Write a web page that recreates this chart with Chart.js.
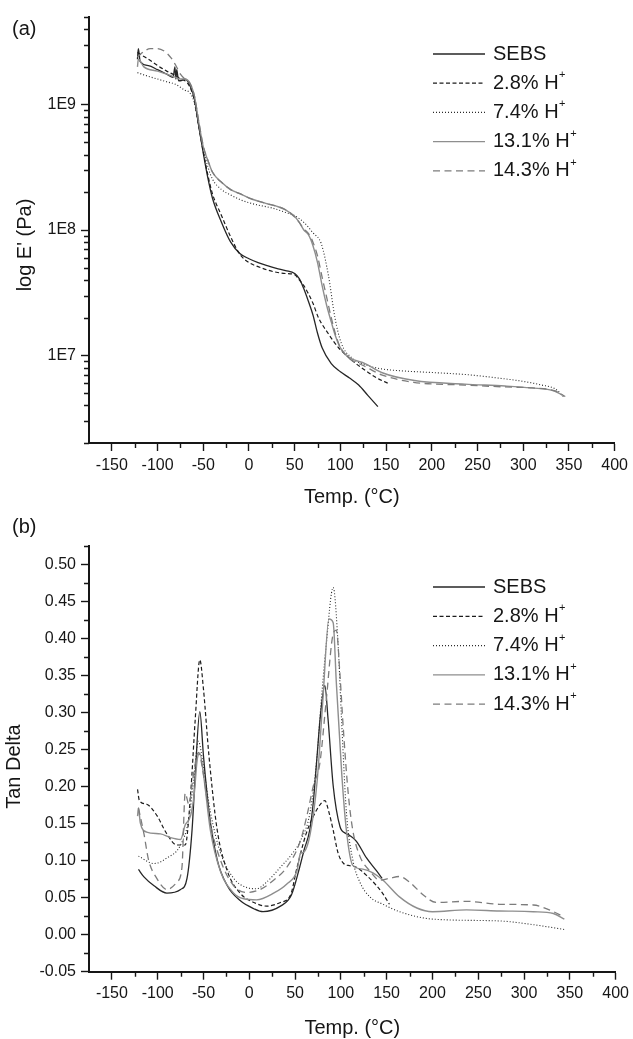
<!DOCTYPE html>
<html><head><meta charset="utf-8">
<script src="https://cdn.jsdelivr.net/npm/chart.js@4.4.0/dist/chart.umd.min.js"></script>
<style>
html,body{margin:0;padding:0;background:#fff;}
#wrap{position:relative;width:633px;height:1039px;overflow:hidden;}
canvas{position:absolute;left:0;}
#ca{top:0;} #cb{top:512px;}
</style></head><body>
<div id="wrap"><canvas id="ca" width="633" height="512"></canvas><canvas id="cb" width="633" height="527"></canvas></div>
<script>
const seriesNames = ['SEBS', '2.8% H⁺', '7.4% H⁺', '13.1% H⁺', '14.3% H⁺'];

// ---- panel (a): storage modulus E' (Pa) vs temperature (°C)
const sebsT_a = [-122,-121,-119,-110,-100,-90,-83,-81,-80,-79,-77,-75,-70,-65,-60,-55,-50,-45,-40,-30,-20,-10,0,10,20,30,40,50,55,60,65,70,75,80,90,100,110,120,130,141];
const sebsE_a = [2.3e9,2.8e9,2.2e9,2.05e9,1.9e9,1.75e9,1.65e9,2.0e9,1.6e9,1.9e9,1.55e9,1.55e9,1.6e9,1.45e9,1.14e9,6.8e8,4.1e8,2.6e8,1.8e8,1.15e8,8.0e7,6.5e7,5.9e7,5.5e7,5.2e7,4.95e7,4.75e7,4.5e7,4.1e7,3.4e7,2.7e7,2.1e7,1.5e7,1.15e7,8.6e6,7.4e6,6.6e6,5.8e6,4.8e6,3.9e6];
const p28T_a = [-122,-110,-100,-90,-80,-75,-70,-65,-60,-55,-50,-45,-40,-30,-20,-10,0,10,20,30,40,50,55,60,65,70,76,87,98,109,127,140,154];
const p28E_a = [2.6e9,2.3e9,2.05e9,1.85e9,1.7e9,1.6e9,1.55e9,1.4e9,1.1e9,6.8e8,4.2e8,2.75e8,1.95e8,1.3e8,8.8e7,6.4e7,5.5e7,5.1e7,4.8e7,4.6e7,4.5e7,4.4e7,4.0e7,3.6e7,3.1e7,2.6e7,2.0e7,1.48e7,1.15e7,9.6e6,7.6e6,6.6e6,5.9e6];
const p74T_a = [-122,-110,-100,-90,-80,-70,-65,-60,-55,-50,-45,-40,-30,-20,-10,0,10,25,40,50,60,70,79,87,94,101,112,130,145,170,200,240,272,300,320,335,345];
const p74E_a = [1.8e9,1.68e9,1.6e9,1.52e9,1.45e9,1.3e9,1.25e9,1.05e9,6.8e8,4.4e8,3.2e8,2.55e8,2.1e8,1.9e8,1.75e8,1.65e8,1.58e8,1.5e8,1.38e8,1.3e8,1.15e8,9.5e7,7.8e7,4.3e7,2.0e7,1.25e7,9.6e6,8.3e6,7.8e6,7.5e6,7.3e6,7.0e6,6.6e6,6.2e6,5.8e6,5.4e6,4.6e6];
const p131T_a = [-122,-121,-115,-100,-90,-80,-75,-70,-65,-60,-55,-50,-45,-40,-30,-20,-10,0,10,20,30,40,50,55,60,65,70,75,80,85,90,95,100,110,127,145,181,236,280,309,334,343];
const p131E_a = [2.0e9,2.3e9,2.0e9,1.85e9,1.75e9,1.65e9,1.6e9,1.6e9,1.5e9,1.2e9,7.3e8,4.6e8,3.6e8,2.9e8,2.4e8,2.1e8,1.95e8,1.8e8,1.7e8,1.62e8,1.55e8,1.45e8,1.28e8,1.15e8,1.0e8,9.2e7,7.5e7,5.5e7,3.6e7,2.5e7,1.85e7,1.4e7,1.15e7,9.6e6,8.6e6,7.3e6,6.3e6,5.9e6,5.7e6,5.5e6,5.2e6,4.8e6];
const p143T_a = [-122,-115,-108,-100,-92,-85,-80,-75,-70,-65,-60,-55,-50,-45,-40,-30,-20,-10,0,10,20,30,40,50,55,60,65,70,75,80,85,90,95,100,110,125,145,180,236,280,310,335,346];
const p143E_a = [2.4e9,2.65e9,2.8e9,2.8e9,2.65e9,2.35e9,2.05e9,1.75e9,1.6e9,1.5e9,1.2e9,7.4e8,4.7e8,3.6e8,2.9e8,2.4e8,2.1e8,1.95e8,1.8e8,1.7e8,1.62e8,1.55e8,1.45e8,1.27e8,1.15e8,1.02e8,9.4e7,8.0e7,6.2e7,4.2e7,2.9e7,2.0e7,1.45e7,1.15e7,9.4e6,8.3e6,7.0e6,6.1e6,5.8e6,5.6e6,5.5e6,5.2e6,4.7e6];

// ---- panel (b): tan delta vs temperature (°C)
const sebsT_b = [-121,-115,-104,-90,-75,-68,-62.5,-59,-54,-50,-44,-35,-24,-10,5,15,34,46,55,60,66,70,74,78,82.5,86,91.6,99,105,110,117,128,139,145];
const sebsD_b = [0.088,0.078,0.066,0.056,0.061,0.076,0.141,0.216,0.301,0.241,0.166,0.101,0.066,0.046,0.035,0.031,0.0385,0.0535,0.091,0.115,0.141,0.18,0.241,0.30,0.336,0.291,0.201,0.146,0.137,0.1335,0.126,0.1035,0.086,0.076];
const p28T_b = [-122,-120,-112,-101,-90,-79,-70,-64,-59,-54,-50,-44,-35,-24,-10,5,19,34,45,52,62,70,77,82.5,87,91.6,97,103,110,117,128,139,146,153];
const p28D_b = [0.196,0.181,0.176,0.161,0.136,0.121,0.121,0.191,0.291,0.371,0.331,0.241,0.141,0.086,0.056,0.0435,0.0385,0.0435,0.0535,0.09,0.136,0.16,0.175,0.181,0.165,0.141,0.11,0.096,0.093,0.091,0.08,0.066,0.055,0.041];
const p74T_b = [-121,-104,-90,-75,-66,-61,-55.6,-50,-42.5,-31.6,-17,-2.5,8,19,34,48,55.6,66.5,74,77,84,91.6,97,100.7,106,113,120.7,131.6,146,164,200,273,310,344];
const p74D_b = [0.106,0.096,0.1035,0.121,0.156,0.206,0.261,0.226,0.166,0.111,0.076,0.0635,0.062,0.071,0.091,0.111,0.126,0.166,0.241,0.291,0.391,0.4685,0.391,0.291,0.166,0.101,0.071,0.051,0.041,0.031,0.021,0.0185,0.0135,0.007];
const p131T_b = [-122,-121,-119,-112,-97,-86,-75,-70,-64,-60,-57,-54,-50,-42.5,-31.6,-17,-6,8,26.5,41,52,56,59,66.5,74,80,87,91.6,95,101,106,113,124,135,146,164,183,200,237,273,310,332,344];
const p131D_b = [0.16,0.171,0.151,0.1385,0.136,0.131,0.1285,0.148,0.161,0.191,0.235,0.245,0.216,0.141,0.086,0.056,0.0485,0.047,0.056,0.0685,0.086,0.11,0.111,0.136,0.206,0.31,0.426,0.421,0.341,0.216,0.141,0.0935,0.0885,0.0835,0.0735,0.051,0.036,0.031,0.0335,0.032,0.031,0.0285,0.021];
const p143T_b = [-121,-115,-110,-101,-90,-79,-73.5,-70,-66,-61,-55.6,-50,-42.5,-31.6,-17,-2.5,12,26.5,41,55.6,63,70,77,84,91.6,95,99,102.5,108,113,120.7,131.6,142.5,153,164,175,190,204,237,273,310,332,344];
const p143D_b = [0.171,0.136,0.101,0.076,0.061,0.071,0.091,0.191,0.176,0.216,0.246,0.216,0.151,0.101,0.066,0.057,0.061,0.0735,0.091,0.126,0.161,0.201,0.231,0.316,0.406,0.411,0.351,0.281,0.191,0.141,0.106,0.086,0.0735,0.076,0.0785,0.071,0.0535,0.0435,0.045,0.041,0.04,0.031,0.0235];

// ---- ticks
const xTickValues = [-150,-100,-50,0,50,100,150,200,250,300,350,400];
const xMinorValues = [-125,-75,-25,25,75,125,175,225,275,325,375];
const yTickValuesA = [1e7, 1e8, 1e9];
const yTickLabelsA = ['1E7', '1E8', '1E9'];
const yTickValuesB = [-0.05,0,0.05,0.10,0.15,0.20,0.25,0.30,0.35,0.40,0.45,0.50];
const yTickLabelsB = ['-0.05','0.00','0.05','0.10','0.15','0.20','0.25','0.30','0.35','0.40','0.45','0.50'];
const yMinorValuesB = [-0.025,0.025,0.075,0.125,0.175,0.225,0.275,0.325,0.375,0.425,0.475,0.525];

// ---- styles (kept apart from data)
const FONT = '"Liberation Sans", Arial, Helvetica, sans-serif';
const INK = '#161616';
const lineStyles = [
  {color:'#262626', width:1.3, dash:[]},
  {color:'#1c1c1c', width:1.2, dash:[4,2.5]},
  {color:'#2a2a2a', width:1.1, dash:[1,2]},
  {color:'#8e8e8e', width:1.4, dash:[]},
  {color:'#7c7c7c', width:1.3, dash:[7,4.5]}
];

function pts(xs, ys){ return xs.map((x,i)=>({x:x, y:ys[i]})); }
function makeDatasets(pairs){
  return pairs.map((p,i)=>({
    label: seriesNames[i], data: pts(p[0], p[1]),
    borderColor: lineStyles[i].color, borderWidth: lineStyles[i].width,
    borderDash: lineStyles[i].dash, pointRadius: 0, fill: false,
    cubicInterpolationMode: 'monotone', order: 5 - i
  }));
}

function makeDecor(cfg){
  return {
    id: 'decor',
    afterDraw(chart){
      const ctx = chart.ctx, ca = chart.chartArea;
      const xs = chart.scales.x, ys = chart.scales.y;
      ctx.save();
      // minor ticks
      ctx.strokeStyle = INK; ctx.lineWidth = 1.4; ctx.setLineDash([]);
      ctx.beginPath();
      xMinorValues.forEach(v=>{ const px = Math.round(xs.getPixelForValue(v)) + 0.5; ctx.moveTo(px, ca.bottom); ctx.lineTo(px, ca.bottom + 5); });
      cfg.yMinor.forEach(v=>{ const py = Math.round(ys.getPixelForValue(v)) + 0.5; ctx.moveTo(ca.left, py); ctx.lineTo(ca.left - 5, py); });
      ctx.stroke();
      // legend
      chart.data.datasets.forEach((ds,i)=>{
        const y = cfg.legY + i * cfg.legGap;
        ctx.strokeStyle = ds.borderColor; ctx.lineWidth = ds.borderWidth;
        ctx.setLineDash(ds.borderDash || []);
        ctx.beginPath(); ctx.moveTo(cfg.legX0, y); ctx.lineTo(cfg.legX1, y); ctx.stroke();
        ctx.setLineDash([]);
        ctx.fillStyle = INK; ctx.textBaseline = 'middle'; ctx.textAlign = 'left';
        ctx.font = '20px ' + FONT;
        let label = ds.label, sup = '';
        if (label.endsWith('⁺')) { label = label.slice(0, -1); sup = '+'; }
        ctx.fillText(label, cfg.legX1 + 8, y);
        if (sup) {
          const w = ctx.measureText(label).width;
          ctx.font = '11px ' + FONT;
          ctx.fillText(sup, cfg.legX1 + 8 + w + 0.5, y - 8);
        }
      });
      // y-axis title (rotated)
      ctx.save();
      ctx.translate(cfg.yTitleX, cfg.yTitleY);
      ctx.rotate(-Math.PI / 2);
      ctx.font = '20px ' + FONT; ctx.fillStyle = INK;
      ctx.textAlign = 'center'; ctx.textBaseline = 'middle';
      ctx.fillText(cfg.yTitle, 0, 0);
      ctx.restore();
      // panel label
      ctx.font = '20px ' + FONT; ctx.fillStyle = INK;
      ctx.textBaseline = 'middle'; ctx.textAlign = 'left';
      ctx.fillText(cfg.panel, 12, cfg.panelY);
      ctx.restore();
    }
  };
}

function axisCommon(){
  return {
    grid: {display:true, drawOnChartArea:false, drawTicks:true, tickLength:8, tickWidth:1.4, tickColor:INK, color:INK},
    border: {display:true, width:2, color:INK},
  };
}

function makeChart(canvasId, o){
  const xAxis = Object.assign(axisCommon(), {
    type:'linear', min:-175, max:400,
    afterBuildTicks: s => { s.ticks = xTickValues.map(v=>({value:v})); },
    afterFit: s => { s.height = o.xAxisH; },
    ticks: {font:{size:16, family:FONT}, color:INK, padding:o.xTickPad, maxRotation:0, autoSkip:false,
      callback: v => String(v)},
    title: {display:true, text:'Temp. (°C)', color:INK, font:{size:20, family:FONT, lineHeight:1.0}, padding:{top:0, bottom:o.xTitlePad}}
  });
  const yAxis = Object.assign(axisCommon(), {
    type:o.yType, min:o.yMin, max:o.yMax,
    afterBuildTicks: s => { s.ticks = o.yTicks.map(v=>({value:v})); },
    afterFit: s => { s.width = 89; },
    ticks: {font:{size:16, family:FONT}, color:INK, padding:5, autoSkip:false,
      callback: (v) => { let best = 0; o.yTicks.forEach((t,i)=>{ if (Math.abs(t - v) < Math.abs(o.yTicks[best] - v)) best = i; }); return o.yLabels[best]; }},
    title: {display:false, text:o.yTitle}
  });
  return new Chart(document.getElementById(canvasId), {
    type:'line',
    data:{datasets: makeDatasets(o.pairs)},
    options:{
      responsive:false, animation:false, devicePixelRatio:1,
      layout:{padding:{left:0, right:17, top:o.padTop, bottom:0}},
      plugins:{legend:{display:false}, tooltip:{enabled:false}, title:{display:false}},
      scales:{x:xAxis, y:yAxis}
    },
    plugins:[makeDecor(Object.assign({yTitle:o.yTitle}, o.decor))]
  });
}

// minor ticks for the log axis (2..9 × decade within range)
const yMinorValuesA = [];
[1e6,1e7,1e8,1e9].forEach(d=>{ for (let m=2; m<=9; m++){ const v=m*d; if (v>=2e6 && v<=5e9) yMinorValuesA.push(v); } });

makeChart('ca', {
  pairs: [[sebsT_a,sebsE_a],[p28T_a,p28E_a],[p74T_a,p74E_a],[p131T_a,p131E_a],[p143T_a,p143E_a]],
  yType:'logarithmic', yMin:2e6, yMax:5e9, yTicks:yTickValuesA, yLabels:yTickLabelsA,
  yTitle:"log E' (Pa)", xTitlePad:4.5, xTickPad:5, xAxisH:69, padTop:17,
  decor:{yMinor:yMinorValuesA, legY:54, legGap:29.2, legX0:433, legX1:485, panel:'(a)', panelY:29, yTitleX:25, yTitleY:245}
});
makeChart('cb', {
  pairs: [[sebsT_b,sebsD_b],[p28T_b,p28D_b],[p74T_b,p74D_b],[p131T_b,p131D_b],[p143T_b,p143D_b]],
  yType:'linear', yMin:-0.05, yMax:0.525, yTicks:yTickValuesB, yLabels:yTickLabelsB,
  yTitle:'Tan Delta', xTitlePad:0.5, xTickPad:4, xAxisH:67.3, padTop:33.7,
  decor:{yMinor:yMinorValuesB, legY:75, legGap:29.3, legX0:433, legX1:485, panel:'(b)', panelY:15.5, yTitleX:14, yTitleY:254.6}
});
</script>
</body></html>
